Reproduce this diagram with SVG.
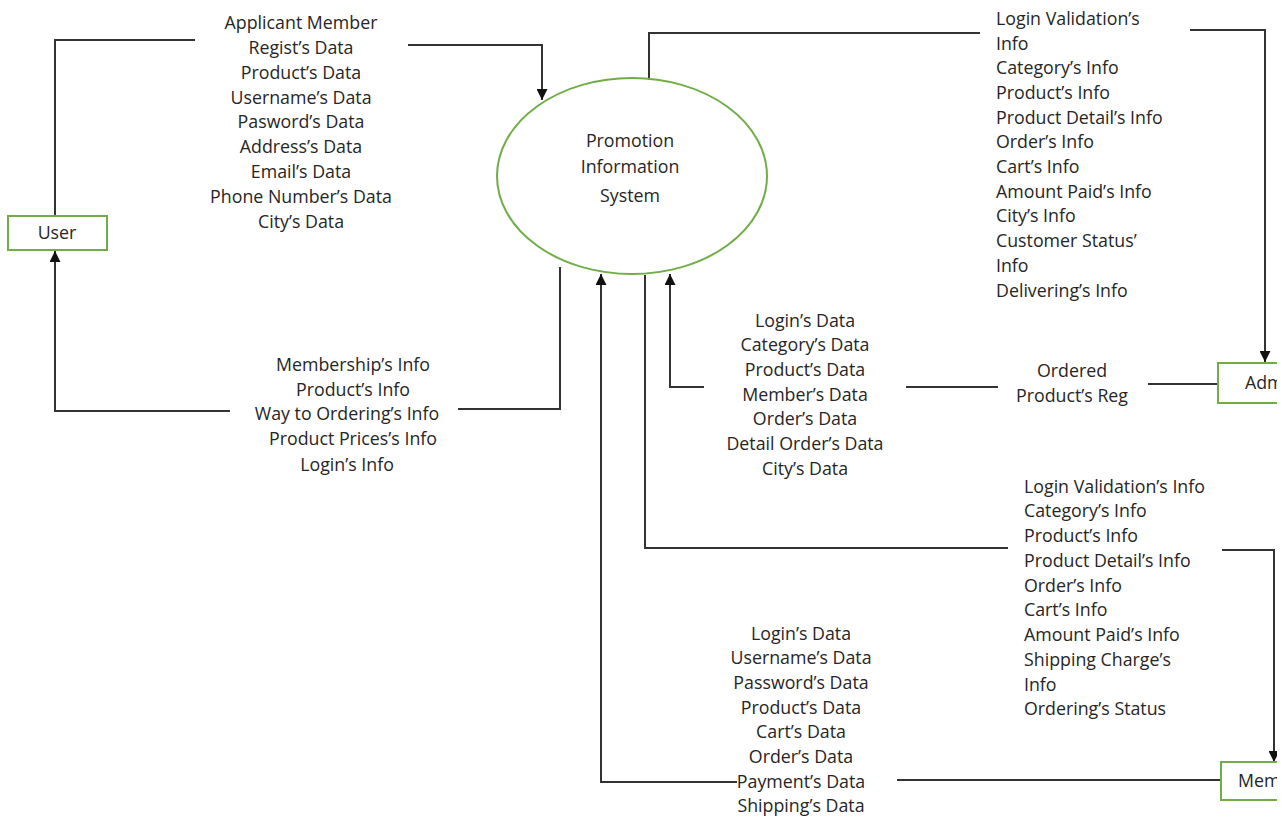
<svg xmlns="http://www.w3.org/2000/svg" width="1282" height="817" viewBox="0 0 1282 817">
<defs>
<style>
text{font-family:"Open Sans","Liberation Sans",sans-serif;font-size:17.8px;fill:#262626}
.c{text-anchor:middle}
.l{text-anchor:start}
.box{fill:#fff;stroke:#70ad47;stroke-width:2}
.ln{fill:none;stroke:#333;stroke-width:2}
</style>
<marker id="ah" viewBox="0 0 10 10" refX="10" refY="5" markerWidth="5.5" markerHeight="5.5" orient="auto" markerUnits="strokeWidth">
<path d="M0,0 L10,5 L0,10 z" fill="#111"/>
</marker>
<clipPath id="vp"><rect x="0" y="0" width="1277" height="817"/></clipPath>
</defs>
<rect width="1282" height="817" fill="#fff"/>
<g clip-path="url(#vp)">
<g id="connectors">
<polyline class="ln" points="55,216 55,40 195,40"/>
<polyline class="ln" points="408,45 542,45 542,100" marker-end="url(#ah)"/>
<polyline class="ln" points="649,80 649,33 980,33"/>
<polyline class="ln" points="1190,30 1265,30 1265,362" marker-end="url(#ah)"/>
<line class="ln" x1="1218" y1="384" x2="1148" y2="384"/>
<line class="ln" x1="998" y1="387" x2="906" y2="387"/>
<polyline class="ln" points="704,387 670,387 670,274" marker-end="url(#ah)"/>
<polyline class="ln" points="560,267 560,409 458,409"/>
<polyline class="ln" points="230,411 55,411 55,251" marker-end="url(#ah)"/>
<polyline class="ln" points="645,275 645,548 1008,548"/>
<polyline class="ln" points="1222,550 1274,550 1274,762" marker-end="url(#ah)"/>
<line class="ln" x1="1221" y1="780" x2="897" y2="780"/>
<polyline class="ln" points="737,782 601,782 601,274" marker-end="url(#ah)"/>
</g>
<g id="process">
<ellipse cx="632" cy="176" rx="135" ry="98" fill="none" stroke="#70ad47" stroke-width="2"/>
<text class="c" x="630" y="147">Promotion</text>
<text class="c" x="630" y="173">Information</text>
<text class="c" x="630" y="202">System</text>
</g>
<g id="user">
<rect class="box" x="8" y="216" width="99" height="34"/>
<text class="c" x="57" y="239">User</text>
</g>
<g id="admin">
<rect class="box" x="1218" y="363" width="90" height="40"/>
<text class="l" x="1245" y="389">Admin</text>
</g>
<g id="member">
<rect class="box" x="1221" y="762" width="90" height="38"/>
<text class="l" x="1238" y="787">Member</text>
</g>
<g id="labels">
<g class="c">
<text x="301" y="29">Applicant Member</text>
<text x="301" y="54">Regist’s Data</text>
<text x="301" y="79">Product’s Data</text>
<text x="301" y="104">Username’s Data</text>
<text x="301" y="128">Pasword’s Data</text>
<text x="301" y="153">Address’s Data</text>
<text x="301" y="178">Email’s Data</text>
<text x="301" y="203">Phone Number’s Data</text>
<text x="301" y="228">City’s Data</text>
</g>
<g class="c">
<text x="353" y="371">Membership’s Info</text>
<text x="353" y="396">Product’s Info</text>
<text x="347" y="420">Way to Ordering’s Info</text>
<text x="353" y="445">Product Prices’s Info</text>
<text x="347" y="471">Login’s Info</text>
</g>
<g class="l">
<text x="996" y="25">Login Validation’s</text>
<text x="996" y="50">Info</text>
<text x="996" y="74">Category’s Info</text>
<text x="996" y="99">Product’s Info</text>
<text x="996" y="124">Product Detail’s Info</text>
<text x="996" y="148">Order’s Info</text>
<text x="996" y="173">Cart’s Info</text>
<text x="996" y="198">Amount Paid’s Info</text>
<text x="996" y="222">City’s Info</text>
<text x="996" y="247">Customer Status’</text>
<text x="996" y="272">Info</text>
<text x="996" y="297">Delivering’s Info</text>
</g>
<g class="c">
<text x="1072" y="377">Ordered</text>
<text x="1072" y="402">Product’s Reg</text>
</g>
<g class="c">
<text x="805" y="327">Login’s Data</text>
<text x="805" y="351">Category’s Data</text>
<text x="805" y="376">Product’s Data</text>
<text x="805" y="401">Member’s Data</text>
<text x="805" y="425">Order’s Data</text>
<text x="805" y="450">Detail Order’s Data</text>
<text x="805" y="475">City’s Data</text>
</g>
<g class="l">
<text x="1024" y="493">Login Validation’s Info</text>
<text x="1024" y="517">Category’s Info</text>
<text x="1024" y="542">Product’s Info</text>
<text x="1024" y="567">Product Detail’s Info</text>
<text x="1024" y="592">Order’s Info</text>
<text x="1024" y="616">Cart’s Info</text>
<text x="1024" y="641">Amount Paid’s Info</text>
<text x="1024" y="666">Shipping Charge’s</text>
<text x="1024" y="691">Info</text>
<text x="1024" y="715">Ordering’s Status</text>
</g>
<g class="c">
<text x="801" y="640">Login’s Data</text>
<text x="801" y="664">Username’s Data</text>
<text x="801" y="689">Password’s Data</text>
<text x="801" y="714">Product’s Data</text>
<text x="801" y="738">Cart’s Data</text>
<text x="801" y="763">Order’s Data</text>
<text x="801" y="788">Payment’s Data</text>
<text x="801" y="812">Shipping’s Data</text>
</g>
</g>
</g>
</svg>
